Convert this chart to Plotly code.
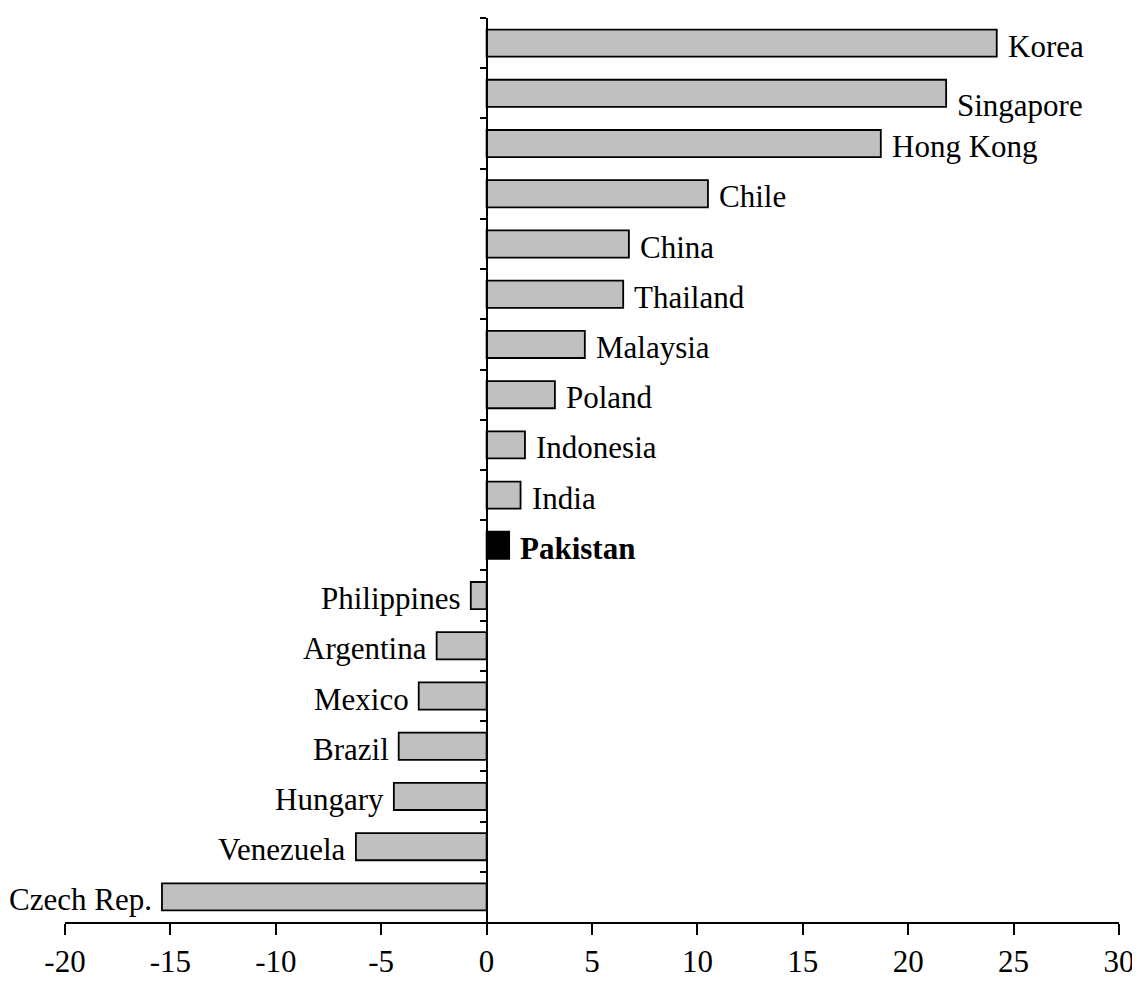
import plotly.graph_objects as go

countries = ["Korea", "Singapore", "Hong Kong", "Chile", "China", "Thailand",
             "Malaysia", "Poland", "Indonesia", "India", "Pakistan",
             "Philippines", "Argentina", "Mexico", "Brazil", "Hungary",
             "Venezuela", "Czech Rep."]
values = [24.2, 21.8, 18.7, 10.5, 6.75, 6.48, 4.66, 3.24, 1.82, 1.61, 1.07,
          -0.75, -2.37, -3.22, -4.17, -4.4, -6.2, -15.4]
highlight = "Pakistan"
x_ticks = [-20, -15, -10, -5, 0, 5, 10, 15, 20, 25, 30]
label_yshift = {"Singapore": -12}

FONT = "Liberation Serif, Times New Roman, serif"

colors = ["#000000" if c == highlight else "#C0C0C0" for c in countries]

fig = go.Figure(go.Bar(
    x=values, y=countries, orientation="h",
    marker=dict(color=colors, line=dict(color="#000000", width=1.8)),
    hoverinfo="skip",
))

for c, v in zip(countries, values):
    pos = v >= 0
    fig.add_annotation(
        x=v, y=c, xref="x", yref="y",
        text=("<b>%s</b>" % c) if c == highlight else c,
        showarrow=False,
        xanchor="left" if pos else "right",
        yanchor="middle",
        xshift=9 if pos else -8,
        yshift=label_yshift.get(c, -3),
        font=dict(family=FONT, size=31, color="#000000"),
    )

# page body has an 8px margin; size/offset so the plot area lands in place
fig.update_layout(
    width=1131, height=971,
    margin=dict(l=57, r=20, t=10, b=57),
    paper_bgcolor="white", plot_bgcolor="white",
    showlegend=False,
    bargap=0.46,
    font=dict(family=FONT, size=31, color="#000000"),
    xaxis=dict(
        range=[-20, 30], tickmode="array", tickvals=x_ticks,
        ticktext=[str(t) for t in x_ticks],
        showgrid=False, zeroline=False, automargin=False,
        ticklabeloverflow="allow",
        showline=True, linecolor="#000000", linewidth=1.5,
        ticks="outside", ticklen=11, tickwidth=1.5, tickcolor="#000000",
        tickfont=dict(family=FONT, size=31, color="#000000"),
    ),
    yaxis=dict(
        autorange="reversed", type="category",
        anchor="free", position=0.4, automargin=False,
        showticklabels=False, showgrid=False, zeroline=False,
        showline=True, linecolor="#000000", linewidth=1.5,
        ticks="outside", tickson="boundaries", ticklen=6, tickwidth=1.5,
        tickcolor="#000000",
    ),
)

fig.write_html("out.html")
